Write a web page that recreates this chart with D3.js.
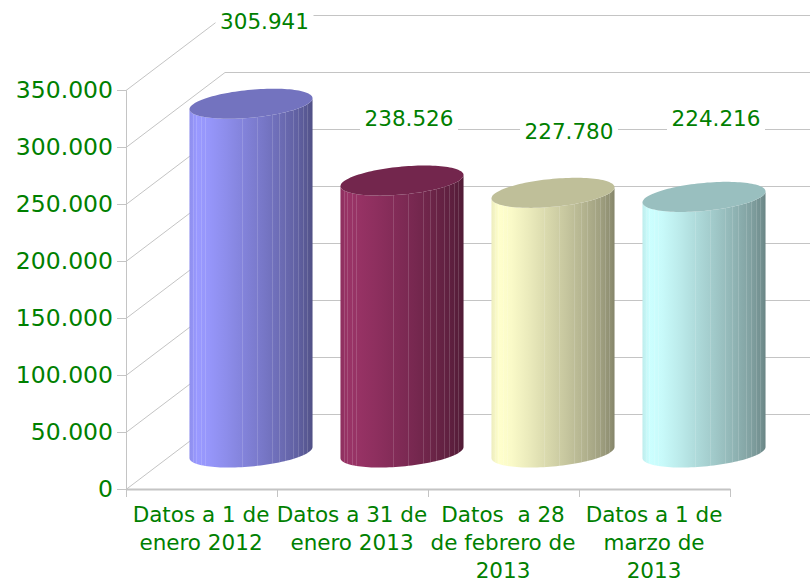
<!DOCTYPE html>
<html>
<head>
<meta charset="utf-8">
<script src="https://cdnjs.cloudflare.com/ajax/libs/d3/7.8.5/d3.min.js"></script>
<style>
  html, body { margin: 0; padding: 0; background: #fff; }
  svg { display: block; }
  text { font-family: "DejaVu Sans", Verdana, sans-serif; fill: #008000; }
</style>
</head>
<body>
<svg width="810" height="580"></svg>
<script>
var categories = ["Datos a 1 de\nenero 2012", "Datos a 31 de\nenero 2013", "Datos  a 28\nde febrero de\n2013", "Datos a 1 de\nmarzo de\n2013"];
var values = [305941, 238526, 227780, 224216];
var valueLabels = ["305.941", "238.526", "227.780", "224.216"];
var colors = ["#9999ff", "#993366", "#ffffcc", "#ccffff"];
var yTicks = [0, 50000, 100000, 150000, 200000, 250000, 300000, 350000];

var svg = d3.select("svg");
var gridColor = "#c4c4c4";

// front plane of the box, the back wall is shifted by depth
var plotLeft = 126, plotRight = 730, plotBottom = 489, plotTop = 90;
var depthX = 99, depthY = 75;

var xScale = d3.scaleBand().domain(d3.range(categories.length)).range([plotLeft, plotRight]);
var yScale = d3.scaleLinear().domain([0, 350000]).range([plotBottom, plotTop]);

// back wall and side wall
var grid = svg.append("g").attr("fill", "none").attr("stroke", gridColor);
yTicks.forEach(function (t) {
  var y = Math.round(yScale(t));
  grid.append("path")
    .attr("d", "M" + plotLeft + "," + (y + 0.5) + "L" + (plotLeft + depthX) + "," + (y - depthY + 0.5) + "H810");
});

// axes
var yAxis = d3.axisLeft(yScale)
  .tickValues(yTicks)
  .tickSize(9)
  .tickPadding(4)
  .tickFormat(function (d) { return d3.format(",")(d).replace(/,/g, "."); });
var yG = svg.append("g").attr("transform", "translate(" + plotLeft + ",0)").call(yAxis);
yG.selectAll("path, line").attr("stroke", gridColor);
yG.selectAll("text").style("font-size", "23.5px").attr("dy", "0.33em");

var xAxis = d3.axisBottom(xScale).tickFormat("").tickSize(8).tickSizeOuter(0);
var xG = svg.append("g").attr("transform", "translate(0," + plotBottom + ")").call(xAxis);
xG.selectAll(".tick").remove();
xG.select(".domain").attr("stroke", gridColor).attr("stroke-width", 2);
d3.range(categories.length + 1).forEach(function (i) {
  var x = i < categories.length ? xScale(i) : plotRight;
  xG.append("line").attr("x1", x + 0.5).attr("x2", x + 0.5).attr("y1", 0).attr("y2", 8).attr("stroke", gridColor);
});

// wrapped category labels
categories.forEach(function (c, i) {
  var t = svg.append("text")
    .attr("text-anchor", "middle")
    .attr("xml:space", "preserve")
    .style("white-space", "pre")
    .style("font-size", "21.5px");
  c.split("\n").forEach(function (line, j) {
    t.append("tspan")
      .attr("x", xScale(i) + xScale.bandwidth() / 2 - 0.5)
      .attr("y", 521.5 + j * 28)
      .text(line);
  });
});

// cylinders
var barWidth = xScale.bandwidth() * 0.815;
var rx = barWidth / 2, ry = 14, tilt = 0.09;
var defs = svg.append("defs");
var shadeStops = [[0, 0.93], [0.06, 1], [0.16, 0.98], [0.3, 0.92], [0.45, 0.85], [0.6, 0.78], [0.75, 0.7], [0.88, 0.63], [0.97, 0.56], [1, 0.52]];
var seams = [0.027, 0.054, 0.09, 0.128, 0.428, 0.55, 0.67, 0.73, 0.78, 0.84, 0.88, 0.92, 0.955];
var line = d3.line();

function shade(color, k) {
  var c = d3.rgb(color);
  return d3.rgb(c.r * k, c.g * k, c.b * k).formatHex();
}

values.forEach(function (v, i) {
  var cx = xScale(i) + xScale.bandwidth() / 2 + depthX / 2;
  var baseY = plotBottom - 36.5;
  var topY = yScale(v) - 36.5;
  var g = svg.append("g");

  // front edge of the tilted ellipse, left to right
  function edge(y) {
    return d3.range(0, 61).map(function (n) {
      var a = Math.PI - n / 60 * Math.PI;
      return [cx + rx * Math.cos(a), y + ry * Math.sin(a) - tilt * rx * Math.cos(a)];
    });
  }
  function edgeY(x, y) {
    var f = (x - cx) / rx;
    return y + ry * Math.sqrt(Math.max(0, 1 - f * f)) - tilt * (x - cx);
  }

  var grad = defs.append("linearGradient").attr("id", "cyl" + i);
  shadeStops.forEach(function (s) {
    grad.append("stop").attr("offset", s[0]).attr("stop-color", shade(colors[i], s[1]));
  });

  var body = edge(baseY).concat(edge(topY).reverse());
  g.append("path").attr("d", line(body) + "Z").attr("fill", "url(#cyl" + i + ")");

  seams.forEach(function (s) {
    var x = Math.round(cx - rx + s * barWidth) + 0.5;
    g.append("line")
      .attr("x1", x).attr("x2", x)
      .attr("y1", edgeY(x, topY)).attr("y2", edgeY(x, baseY))
      .attr("stroke", "#fff")
      .attr("stroke-opacity", 0.15);
  });

  var lid = d3.range(0, 121).map(function (n) {
    var a = n / 120 * 2 * Math.PI;
    return [cx + rx * Math.cos(a), topY + ry * Math.sin(a) - tilt * rx * Math.cos(a)];
  });
  g.append("path").attr("d", line(lid) + "Z").attr("fill", shade(colors[i], 0.75));
});

// value labels with white box, lift and shift keep them clear of each other
var labelLift = [67.5, 47, 47, 64];
var labelShift = [13.5, 7, 16, 12];
values.forEach(function (v, i) {
  var cx = xScale(i) + xScale.bandwidth() / 2 + depthX / 2 + labelShift[i];
  var cy = yScale(v) - 36.5 - 15 - labelLift[i];
  svg.append("rect")
    .attr("x", cx - 49).attr("y", cy - 14).attr("width", 98).attr("height", 28)
    .attr("fill", "#fff");
  svg.append("text")
    .attr("x", cx).attr("y", cy)
    .attr("dy", "0.36em")
    .attr("text-anchor", "middle")
    .style("font-size", "21.5px")
    .text(valueLabels[i]);
});
</script>
</body>
</html>
